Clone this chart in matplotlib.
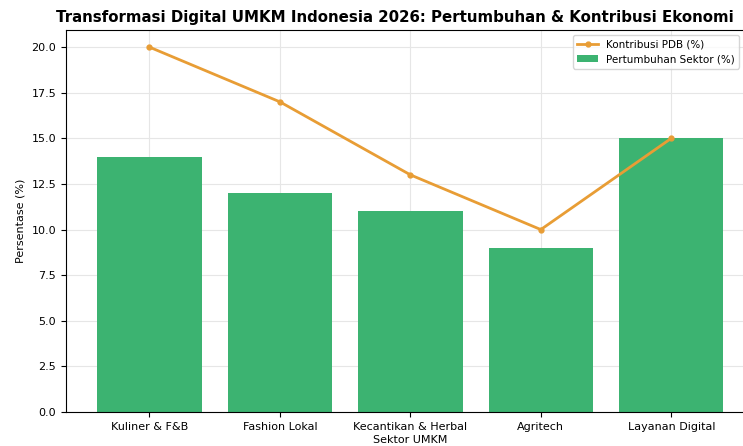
import numpy as np
import matplotlib.pyplot as plt

sektor = ['Kuliner & F&B', 'Fashion Lokal', 'Kecantikan & Herbal', 'Agritech', 'Layanan Digital']
kontribusi_pdb = [20, 17, 13, 10, 15]
pertumbuhan = [14, 12, 11, 9, 15]

fig = plt.figure(figsize=(7.43, 4.46), dpi=100)
ax = fig.add_axes([0.0888, 0.0762, 0.927, 0.857])

x = np.arange(len(sektor))
ax.grid(True, color='#e6e6e6', linewidth=0.8, zorder=0)
ax.set_axisbelow(True)

ax.plot(x, kontribusi_pdb, color='#e89d35', marker='o', markersize=3.5,
        linewidth=2, label='Kontribusi PDB (%)', zorder=3)
ax.bar(x, pertumbuhan, width=0.8, color='#3cb371', label='Pertumbuhan Sektor (%)', zorder=2)

ax.set_ylim(0, 20.95)
ax.set_xticks(x)
ax.set_xticklabels(sektor, fontsize=8)
ax.tick_params(axis='y', labelsize=8)
ax.set_xlabel('Sektor UMKM', fontsize=8, labelpad=2)
ax.set_ylabel('Persentase (%)', fontsize=8)
# judul digeser sedikit ke kiri supaya muat di gambar
ax.set_title('Transformasi Digital UMKM Indonesia 2026: Pertumbuhan & Kontribusi Ekonomi',
             fontsize=10.8, fontweight='bold', pad=5.5, x=0.478)
ax.legend(loc='upper right', bbox_to_anchor=(0.985, 1.0), fontsize=7.5)

fig.savefig('out.png', dpi=100)
